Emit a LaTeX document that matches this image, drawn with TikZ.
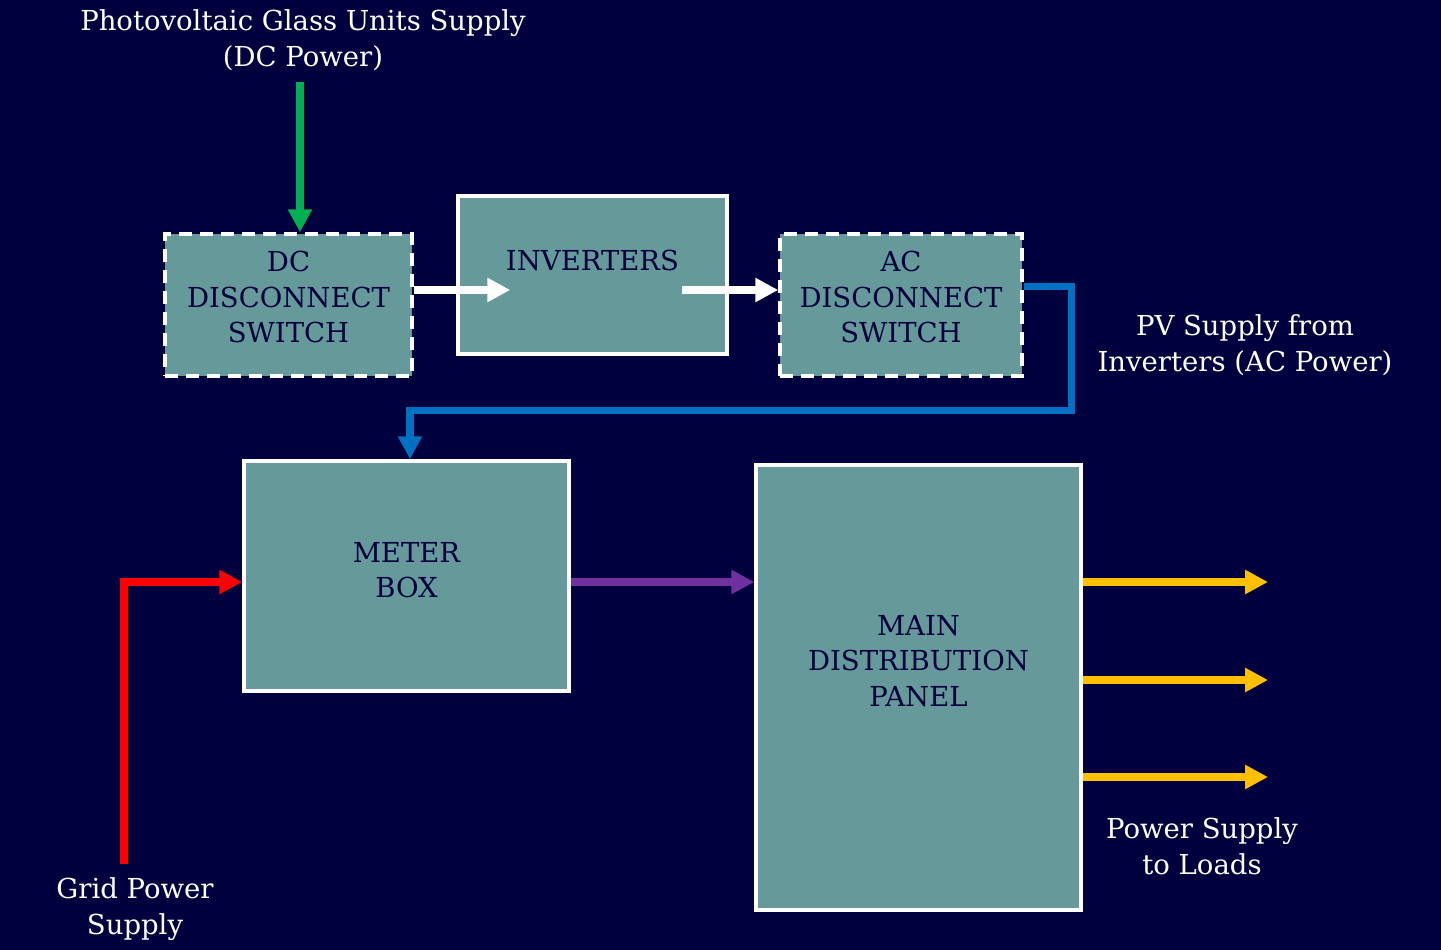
\documentclass[tikz,border=0pt]{standalone}
\usepackage{fontspec}
\setmainfont{DejaVu Serif}
\usetikzlibrary{arrows.meta}
\definecolor{bg}{RGB}{0,0,62}
\definecolor{boxfill}{RGB}{102,153,153}
\definecolor{ngreen}{RGB}{0,176,80}
\definecolor{nblue}{RGB}{0,112,192}
\definecolor{npurple}{RGB}{112,48,160}
\definecolor{nyellow}{RGB}{255,192,0}
\begin{document}
\begin{tikzpicture}[x=1pt,y=-1pt,
  txt/.style={font=\fontsize{27.5}{35.5}\selectfont, align=center, inner sep=0pt},
  lbl/.style={txt, text=white},
  intxt/.style={txt, text=bg},
  blk/.style={rectangle, draw=white, line width=3.5pt, fill=boxfill},
  dashblk/.style={blk, dash pattern=on 13pt off 8pt},
  conn/.style={line width=7.5pt, -{Triangle[length=23pt,width=23pt]}},
  plain/.style={line width=7pt, line cap=butt}
]
\useasboundingbox (0,0) rectangle (1441,950);
\fill[bg] (0,0) rectangle (1441,950);

% blocks
\node[dashblk, minimum width=247pt, minimum height=142pt] (dc) at (288.5,305) {};
\node[blk, minimum width=269pt, minimum height=158pt] (inv) at (592.5,275) {};
\node[dashblk, minimum width=242pt, minimum height=142pt] (ac) at (901,305) {};
\node[blk, minimum width=325pt, minimum height=230pt] (meter) at (406.5,576) {};
\node[blk, minimum width=325pt, minimum height=445pt] (main) at (918.5,687.5) {};

% block texts
\node[intxt] (dct) at (288.5,297) {DC\\DISCONNECT\\SWITCH};
\node[intxt] (invt) at (592.5,260) {INVERTERS};
\node[intxt] (act) at (901,297) {AC\\DISCONNECT\\SWITCH};
\node[intxt] (metert) at (406.5,570) {METER\\BOX};
\node[intxt] (maint) at (918.5,661) {MAIN\\DISTRIBUTION\\PANEL};

% labels
\node[lbl] (pvlbl) at (303,40) {Photovoltaic Glass Units Supply\\(DC Power)};
\node[lbl] (aclbl) at (1245,345) {PV Supply from\\Inverters (AC Power)};
\node[lbl] (loadlbl) at (1202,846) {Power Supply\\to Loads};
\node[lbl] (gridlbl) at (135,909) {Grid Power\\Supply};

% coordinates
\coordinate (gtop) at (300,82);
\coordinate (rbot) at (124,864);
\coordinate (bluex) at (1071,0);
\coordinate (bluey) at (0,410);
\coordinate (ldx) at (1268,0);

% connectors
\draw[conn, ngreen] (gtop) -- (gtop |- dc.north);
\draw[conn, white] ([yshift=15pt]dc.east) -- ([xshift=54pt,yshift=-15pt]inv.west);
\draw[conn, white] ([xshift=-47pt,yshift=-15pt]inv.east) -- ([yshift=15pt]ac.west);
\draw[plain, nblue, line join=miter] ([yshift=19pt]ac.east) -| (bluex |- bluey) -- ([xshift=3.5pt]meter.north |- bluey);
\draw[conn, nblue] ([xshift=3.5pt,yshift=3.5pt]meter.north |- bluey) -- ([xshift=3.5pt]meter.north);
\draw[conn, red, line join=miter] (rbot) |- ([yshift=-6pt]meter.west);
\draw[conn, npurple] ([yshift=-6pt]meter.east) -- ([yshift=-6pt]meter.east -| main.west);
\draw[conn, nyellow] ([yshift=-6pt]meter.east -| main.east) -- ([yshift=-6pt]meter.east -| ldx);
\draw[conn, nyellow] ([yshift=-104pt]meter.east -| main.east) -- ([yshift=-104pt]meter.east -| ldx);
\draw[conn, nyellow] ([yshift=-201pt]meter.east -| main.east) -- ([yshift=-201pt]meter.east -| ldx);
\end{tikzpicture}
\end{document}
